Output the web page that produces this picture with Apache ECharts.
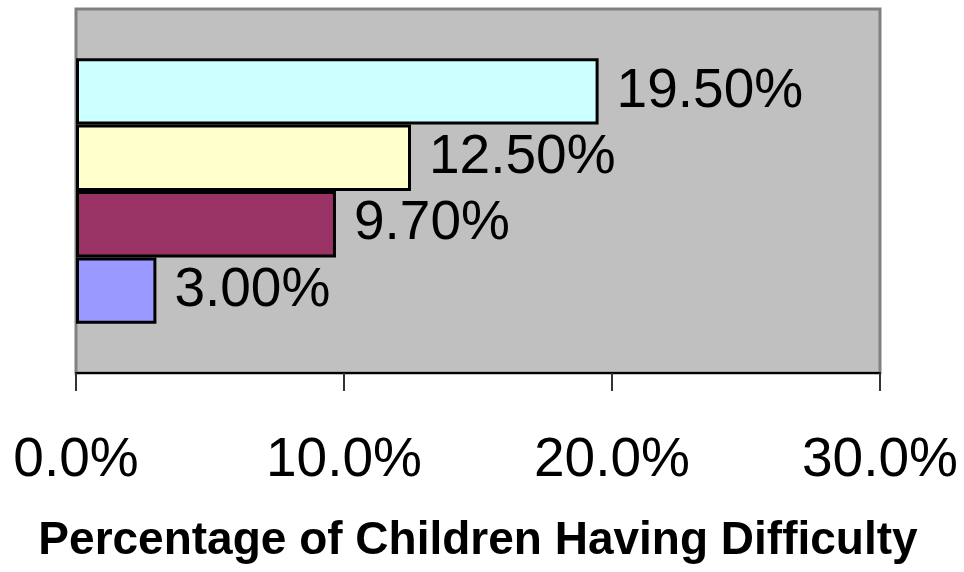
<!DOCTYPE html>
<html>
<head>
<meta charset="utf-8">
<style>
  html, body { margin: 0; padding: 0; background: #ffffff; }
  #chart { width: 964px; height: 572px; }
</style>
<script src="https://cdn.jsdelivr.net/npm/echarts@6/dist/echarts.min.js"></script>
</head>
<body>
<div id="chart"></div>
<script>
// Share of children having difficulty, one bar per group (top to bottom)
const categories = [''];
const seriesNames = ['Group D', 'Group C', 'Group B', 'Group A'];
const seriesValues = [19.5, 12.5, 9.7, 3.0];
const seriesColors = ['#CCFFFF', '#FFFFCC', '#993366', '#9999FF'];
const axisTicks = [0, 10, 20, 30];
const axisTitle = 'Percentage of Children Having Difficulty';

const FONT = '"Liberation Sans", Arial, Helvetica, sans-serif';

const chart = echarts.init(document.getElementById('chart'), null, { renderer: 'canvas' });

const series = seriesValues.map((v, i) => ({
  name: seriesNames[i],
  type: 'bar',
  data: [v],
  barGap: '0%',
  barCategoryGap: '27%',
  itemStyle: { color: seriesColors[i], borderColor: '#000000', borderWidth: 3 },
  label: {
    show: true,
    position: 'right',
    distance: 18,
    color: '#000000',
    fontFamily: FONT,
    fontSize: 55,
    formatter: (p) => p.value.toFixed(2) + '%'
  },
  animation: false
}));

chart.setOption({
  backgroundColor: '#ffffff',
  animation: false,
  grid: {
    left: 76,
    right: 84,
    top: 9,
    bottom: 199,
    show: true,
    backgroundColor: '#C0C0C0',
    borderColor: '#808080',
    borderWidth: 3
  },
  xAxis: {
    type: 'value',
    min: axisTicks[0],
    max: axisTicks[axisTicks.length - 1],
    interval: axisTicks[1] - axisTicks[0],
    splitLine: { show: false },
    axisLine: { show: true, lineStyle: { color: '#000000', width: 2 } },
    axisTick: { show: true, length: 18, lineStyle: { color: '#333333', width: 2 } },
    axisLabel: {
      color: '#000000',
      fontFamily: FONT,
      fontSize: 55,
      margin: 60,
      formatter: (v) => v.toFixed(1) + '%'
    },
    name: axisTitle,
    nameLocation: 'middle',
    nameGap: 145,
    nameTextStyle: {
      color: '#000000',
      fontFamily: FONT,
      fontSize: 46,
      fontWeight: 'bold'
    }
  },
  yAxis: {
    type: 'category',
    data: categories,
    inverse: true,
    axisLine: { show: false },
    axisTick: { show: false },
    axisLabel: { show: false },
    splitLine: { show: false }
  },
  series: series
});
</script>
</body>
</html>
